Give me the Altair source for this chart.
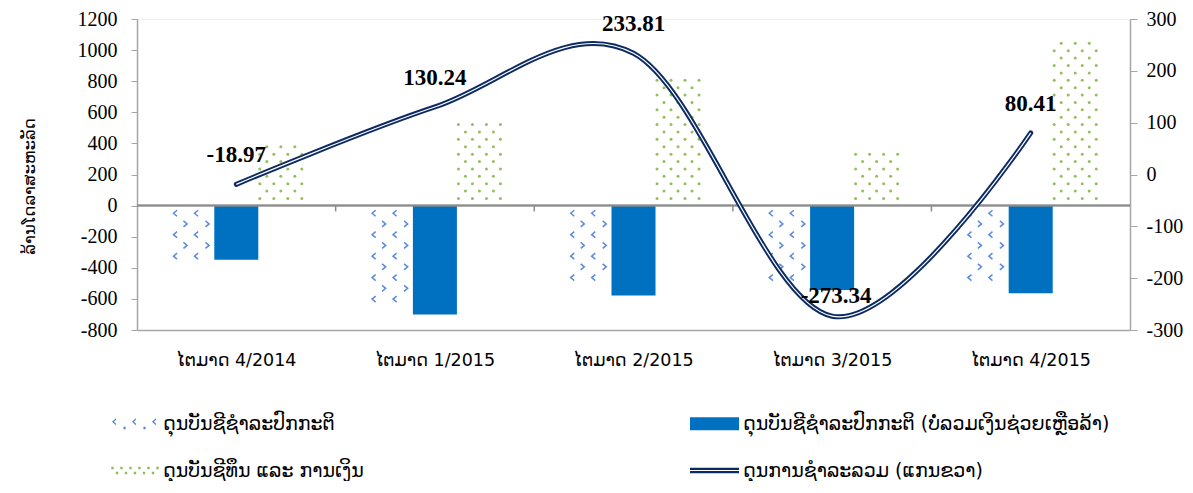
import altair as alt
import pandas as pd

# ---------------- data ----------------
quarters = ["ໄຕມາດ 4/2014", "ໄຕມາດ 1/2015", "ໄຕມາດ 2/2015", "ໄຕມາດ 3/2015", "ໄຕມາດ 4/2015"]
series_names = [
    "ດຸນບັນຊີຊໍາລະປົກກະຕິ",
    "ດຸນບັນຊີຊໍາລະປົກກະຕິ (ບໍ່ລວມເງິນຊ່ວຍເຫຼືອລ້າ)",
    "ດຸນບັນຊີທຶນ ແລະ ການເງິນ",
    "ດຸນການຊໍາລະລວມ (ແກນຂວາ)",
]
current_account = [-336, -662, -540, -514, -535]
current_ex_grants = [-349, -700, -578, -542, -563]
capital_financial = [406, 555, 857, 343, 1073]
overall_balance = [-18.97, 130.24, 233.81, -273.34, 80.41]
left_ticks = [-800, -600, -400, -200, 0, 200, 400, 600, 800, 1000, 1200]
right_ticks = [-300, -200, -100, 0, 100, 200, 300]
y_title = "ລ້ານໂດລາສະຫະລັດ"

bars_df = pd.DataFrame({
    "quarter": quarters * 3,
    "key": ["cur"] * 5 + ["curx"] * 5 + ["cap"] * 5,
    "value": current_account + current_ex_grants + capital_financial,
})
line_df = pd.DataFrame({"quarter": quarters, "overall": overall_balance,
                        "label": [f"{v:.2f}" for v in overall_balance]})
legend_df = pd.DataFrame({"series": series_names})
zero_df = pd.DataFrame({"quarter": quarters[:-1], "z0": [0] * 4, "z1": [-38] * 4})

# ---------------- style ----------------
LAO = "DejaVu Sans"
NUM = "Liberation Serif"
BLUE_DOT = "#4a7fd6"
BLUE = "#0070c0"
GREEN_DOT = "#8fbc56"
NAVY = "#0d2b63"
GREY = "#a6a6a6"
ZGREY = "#8c8c8c"

W, H = 993, 311
x_scale = alt.Scale(domain=quarters, paddingInner=0.335, paddingOuter=0.1675)
yl_scale = alt.Scale(domain=[-800, 1200], nice=False, zero=False)
yr_scale = alt.Scale(domain=[-300, 300], nice=False, zero=False)
GROUP = 132.0  # px width of a bar group (band width)

x_axis = alt.Axis(labelAngle=0, labelFont=LAO, labelFontSize=17.5, labelColor="#000", title=None,
                  labelPadding=21, ticks=False, domainColor=GREY, domainWidth=1.5, grid=False)


def xb(bp=0.5):
    return alt.X("quarter:N", scale=x_scale, sort=quarters, bandPosition=bp, axis=x_axis, title=None)


yl_axis = alt.Axis(values=left_ticks, orient="left", title=y_title, titleFont=LAO, titleFontSize=16.5,
                   titleFontWeight="normal", titleColor="#000", titlePadding=40, titleY=167,
                   labelFont=NUM, labelFontSize=20, labelColor="#000", labelPadding=14,
                   labelExpr="toString(datum.value)",
                   tickSize=6, tickColor=GREY, domainColor=GREY, domainWidth=1.5, grid=False)
yr_axis = alt.Axis(values=right_ticks, orient="right", title=None,
                   labelFont=NUM, labelFontSize=20, labelColor="#000", labelPadding=9,
                   labelExpr="toString(datum.value)",
                   tickSize=7, tickColor=GREY, domainColor=GREY, domainWidth=1.5, grid=False)


def yl(field):
    return alt.Y(field, scale=yl_scale, axis=yl_axis, title=y_title)


def yr(field):
    return alt.Y(field, scale=yr_scale, axis=yr_axis, title=None)


# ---------------- left stack: bars ----------------
solid = alt.Chart(bars_df).transform_filter(alt.datum.key == "curx").mark_bar(
    color=BLUE, width=alt.RelativeBandSize(1 / 3)
).encode(x=xb(), y=yl("value:Q"))

zero_line = alt.Chart(zero_df).mark_rule(color=ZGREY, strokeWidth=1.5).encode(
    x=alt.value(0), x2=alt.value(W), y=yl("z0:Q"))
zero_ticks = alt.Chart(zero_df).mark_rule(color=ZGREY, strokeWidth=1.5, xOffset=33.3).encode(
    x=xb(1.0), y=yl("z0:Q"), y2="z1:Q")

chev_left = "M0.6,-1L-0.6,0L0.6,1"
chev_right = "M-0.6,-1L0.6,0L-0.6,1"


def dot_layer(key, start, stop, step, bp, kind):
    expr = f"sequence({start}, datum.value {stop}, {step})"
    base = alt.Chart(bars_df).transform_filter(alt.datum.key == key).transform_calculate(
        ys=expr).transform_flatten(["ys"])
    if kind == "circle":
        m = base.mark_circle(color=GREEN_DOT, size=9, opacity=0.95)
    else:
        m = base.mark_point(shape=kind, filled=False, color=BLUE_DOT, strokeWidth=1.5, size=36, opacity=0.9)
    return m.encode(x=xb(bp), y=yl("ys:Q"))


dot_layers = []
for px, start, shp in [(5, -49, chev_left), (15, -118, chev_right), (26, -49, chev_left), (37, -118, chev_right)]:
    dot_layers.append(dot_layer("cur", start, "+ 8", -138, px / GROUP, shp))
for k in range(7):
    px = 89.5 + 7 * k
    start = 46 if k % 2 == 0 else 93.5
    dot_layers.append(dot_layer("cap", start, "- 6", 95, px / GROUP, "circle"))


# ---------------- legend (symbols from paths) ----------------
U = 24.5


def rect(x0, y0, x1, y1):
    return f"M{x0/U:.3f},{y0/U:.3f}H{x1/U:.3f}V{y1/U:.3f}H{x0/U:.3f}Z"


def chev(cx, cy):
    pts = [(cx + 2.5, cy - 3.5), (cx - 1.5, cy), (cx + 2.5, cy + 3.5), (cx + 2.5, cy + 2.0),
           (cx + 0.4, cy), (cx + 2.5, cy - 2.0)]
    return "M" + "L".join(f"{x/U:.3f},{y/U:.3f}" for x, y in pts) + "Z"


p_blue = "".join(chev(c, -2) for c in [-21, -1, 19]) + "".join(rect(c - 1, 3, c + 1, 5.5) for c in [-10, 10])
p_solid = rect(-24.5, -6.5, 24.5, 6.5)
p_green = "".join(rect(c - 1.2, -3.7, c + 1.2, -1.3) for c in [-22, -13, -4, 5, 14, 23]) + \
          "".join(rect(c - 1.2, 1.3, c + 1.2, 3.7) for c in [-17.5, -8.5, 0.5, 9.5, 18.5])
p_line = "M-1,-0.11H1V0.11H-1Z M-1,-0.025V0.025H1V-0.025Z"

# legend is filled column by column: first column = series 1 and 3, second = series 2 and 4
legend_order = [series_names[0], series_names[2], series_names[1], series_names[3]]
legend_colors = [BLUE_DOT, GREEN_DOT, BLUE, NAVY]
legend_shapes = [p_blue, p_green, p_solid, p_line]

leg = alt.Legend(orient="none", legendX=-27, legendY=380, columns=2, columnPadding=326, rowPadding=12,
                 title=None, symbolSize=2401, symbolStrokeWidth=0, symbolOpacity=1,
                 labelFont=LAO, labelFontSize=19, labelColor="#000", labelOffset=4, labelLimit=0,
                 padding=0)
legend_layer = alt.Chart(legend_df).transform_filter("false").mark_point(filled=True, strokeWidth=0).encode(
    color=alt.Color("series:N", sort=legend_order, legend=leg,
                    scale=alt.Scale(domain=legend_order, range=legend_colors)),
    shape=alt.Shape("series:N", sort=legend_order, legend=leg,
                    scale=alt.Scale(domain=legend_order, range=legend_shapes)),
)

left = alt.layer(solid, zero_line, zero_ticks, *dot_layers, legend_layer)

# ---------------- right stack: line ----------------
line_outer = alt.Chart(line_df).mark_line(color=NAVY, strokeWidth=5, interpolate="cardinal",
                                          strokeCap="round").encode(x=xb(), y=yr("overall:Q"))
line_inner = alt.Chart(line_df).mark_line(color="white", strokeWidth=1.2, interpolate="cardinal").encode(
    x=xb(), y=yr("overall:Q"))
lab_main = alt.Chart(line_df).transform_filter("datum.overall > -100").mark_text(
    font=NUM, fontSize=23, fontWeight="bold", baseline="alphabetic", dy=-22, color="#000").encode(
    x=xb(), y=yr("overall:Q"), text="label:N")
lab_min = alt.Chart(line_df).transform_filter("datum.overall <= -100").mark_text(
    font=NUM, fontSize=23, fontWeight="bold", baseline="alphabetic", dy=-13, dx=4, color="#000").encode(
    x=xb(), y=yr("overall:Q"), text="label:N")

right = alt.layer(line_outer, line_inner, lab_main, lab_min)

chart = alt.layer(left, right).resolve_scale(y="independent").properties(
    width=W, height=H,
    autosize=alt.AutoSizeParams(type="none"),
    padding={"left": 129, "top": 11, "right": 55, "bottom": 151},
).configure_view(stroke="#efefef")

chart.save("out.html", embed_options={"renderer": "svg", "actions": False})
